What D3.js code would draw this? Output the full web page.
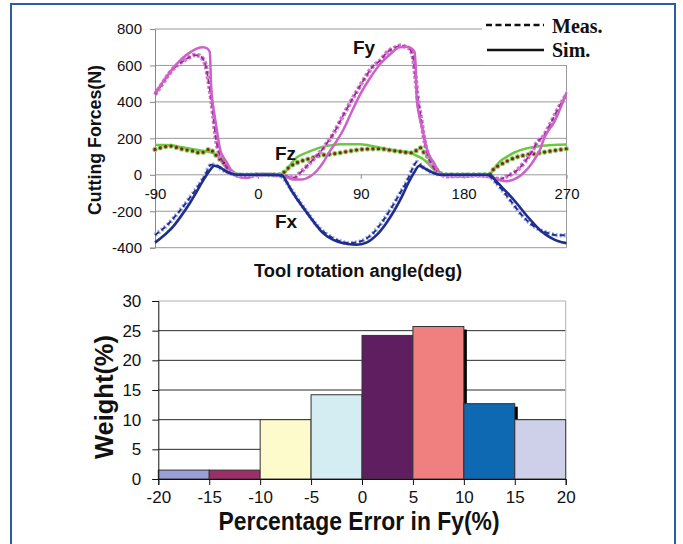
<!DOCTYPE html>
<html>
<head>
<meta charset="utf-8">
<style>
  body { margin: 0; background: #fff; }
  svg text { font-family: "Liberation Sans", Arial, sans-serif; fill: #111; }
  .tick text { font-family: "Liberation Sans", Arial, sans-serif; }
</style>
</head>
<body>
<svg id="chart" width="683" height="544"></svg>
<script src="https://cdn.jsdelivr.net/npm/d3@7"></script>
<script>
// ---- top chart data: [angle (deg), force (N)] ----
var fySim = [[-90,447],[-83,510],[-77,562],[-71,608],[-65,645],[-59,673],[-53,694],[-48,700],[-44,692],[-42,672],[-41,500],[-40,415],[-38,330],[-36,250],[-33,139],[-30,95],[-27,66],[-23,20],[-18,-8],[-10,-17],[-4,-8],[0,0],[10,0],[20,-3],[26,-15],[31,-26],[38,-26],[46,-8],[52,25],[57,66],[63,130],[68,176],[75,250],[82,345],[90,447],[98,530],[107,608],[116,663],[124,700],[130,702],[134,694],[137,675],[138,600],[139,415],[141,330],[144,250],[148,139],[151,95],[154,66],[157,30],[160,5],[168,-8],[180,-10],[190,-5],[200,-10],[206,-17],[212,-30],[218,-35],[224,-25],[229,-8],[234,20],[238,48],[243,95],[247,139],[250,194],[253,231],[259,286],[265,370],[270,452]];
var fyMeas = [[-90,440],[-83,505],[-77,560],[-71,600],[-65,626],[-60,645],[-56,657],[-51,653],[-48,635],[-46,607],[-43,507],[-39,323],[-37,213],[-34,121],[-29,57],[-22,11],[-16,-8],[-8,-5],[0,0],[10,0],[18,-3],[25,-8],[32,-15],[36,5],[40,29],[47,75],[54,121],[60,170],[66,225],[75,330],[86,452],[94,535],[101,598],[107,626],[113,672],[119,695],[125,709],[130,700],[133,690],[136,635],[138,530],[140,415],[143,300],[145,213],[148,121],[152,57],[158,11],[165,-8],[180,-5],[195,-3],[203,-8],[208,-20],[212,-25],[217,-10],[224,11],[230,45],[235,84],[240,130],[244,176],[250,213],[256,280],[261,342],[266,400],[270,440]];
var fzSim = [[-90,163],[-82,164],[-75,162],[-67,152],[-59,143],[-50,133],[-42,125],[-36,110],[-30,75],[-24,29],[-18,5],[-10,0],[0,0],[10,0],[20,0],[24,15],[29,60],[34,95],[40,115],[46,130],[54,149],[62,160],[72,167],[82,168],[90,167],[100,158],[107,149],[116,138],[124,130],[133,121],[137,110],[145,84],[150,55],[154,29],[160,2],[170,0],[180,0],[190,0],[202,0],[206,30],[212,75],[218,100],[224,121],[231,138],[238,149],[246,157],[253,161],[262,165],[270,166]];
var fzMeas = [[-90,139],[-84,150],[-77,158],[-70,148],[-65,139],[-58,132],[-51,121],[-46,128],[-42,143],[-39,125],[-36,103],[-30,66],[-24,20],[-18,0],[-10,-3],[0,0],[10,0],[18,0],[22,11],[28,45],[34,66],[40,80],[47,92],[54,106],[62,112],[72,121],[80,130],[90,139],[98,142],[107,143],[116,135],[124,128],[131,122],[135,121],[139,135],[142,149],[145,125],[148,103],[154,48],[159,11],[165,0],[180,0],[195,0],[203,3],[206,29],[212,55],[218,75],[229,102],[238,112],[247,121],[258,132],[270,143]];
var fxSim = [[-90,-372],[-82,-332],[-74,-283],[-67,-225],[-60,-160],[-54,-98],[-48,-32],[-43,15],[-38,50],[-34,45],[-30,28],[-25,10],[-21,2],[-10,0],[0,0],[10,0],[21,-2],[24,-25],[28,-72],[35,-140],[43,-209],[50,-268],[57,-320],[66,-357],[75,-376],[86,-384],[95,-372],[104,-330],[112,-268],[119,-200],[126,-120],[132,-40],[137,15],[141,48],[146,35],[152,15],[159,0],[170,0],[180,0],[190,0],[203,0],[207,-25],[213,-65],[220,-110],[227,-160],[234,-215],[241,-265],[248,-310],[256,-345],[263,-365],[270,-375]];
var fxMeas = [[-90,-330],[-80,-280],[-70,-210],[-60,-130],[-52,-60],[-46,0],[-41,55],[-38,55],[-34,40],[-28,18],[-22,5],[-15,0],[0,0],[10,0],[18,0],[22,-15],[27,-60],[35,-135],[43,-205],[52,-280],[60,-325],[70,-360],[80,-375],[90,-365],[100,-325],[108,-265],[116,-190],[123,-115],[130,-40],[135,30],[139,70],[143,50],[150,20],[158,3],[165,0],[180,0],[195,0],[202,-5],[207,-35],[214,-85],[222,-150],[230,-215],[238,-265],[246,-300],[255,-322],[263,-332],[270,-332]];
var angleTicks = [-90, 0, 90, 180, 270];
var forceTicks = [-400, -200, 0, 200, 400, 600, 800];

// ---- bottom chart data ----
var binStart = [-20, -15, -10, -5, 0, 5, 10, 15];
var binWeight = [1.5, 1.5, 10, 14.2, 24.2, 25.7, 12.7, 10];
var binColor = ["#9a9fd7", "#9e2d68", "#fdfacb", "#d3edf3", "#5f1e60", "#f08080", "#0f69b2", "#cdd0e8"];
var binShadow = [false, false, false, false, false, true, true, false];
var errTicks = [-20, -15, -10, -5, 0, 5, 10, 15, 20];
var weightTicks = [0, 5, 10, 15, 20, 25, 30];

var svg = d3.select("#chart");
var plain = function (d) { return String(d); };   // hyphen minus like the original

// outer blue frame (no bottom edge)
svg.append("path")
    .attr("d", "M11,544 V4 H675 V544")
    .attr("fill", "none")
    .attr("stroke", "#2a5ca8")
    .attr("stroke-width", 2);

// ================= top chart =================
var x = d3.scaleLinear().domain([-90, 270]).range([155, 566.5]);
var y = d3.scaleLinear().domain([-400, 800]).range([247.7, 29]);

var gTop = svg.append("g");

// gridlines
gTop.selectAll(".grid").data(forceTicks).enter().append("line")
    .attr("x1", x(-90)).attr("x2", x(270))
    .attr("y1", function (d) { return y(d); })
    .attr("y2", function (d) { return y(d); })
    .attr("stroke", "#9a9a9a").attr("stroke-width", 1);
gTop.append("line")
    .attr("x1", x(270)).attr("x2", x(270))
    .attr("y1", y(800)).attr("y2", y(-400))
    .attr("stroke", "#9a9a9a");

// y axis
var yAxis = gTop.append("g")
    .attr("transform", "translate(" + x(-90) + ",0)")
    .call(d3.axisLeft(y).tickValues(forceTicks).tickFormat(plain).tickSize(5).tickPadding(8));
yAxis.select(".domain").attr("stroke", "#888");
yAxis.selectAll(".tick line").attr("stroke", "#888");
yAxis.selectAll("text").attr("font-size", 15).attr("fill", "#222");

// x axis along zero line
var xAxis = gTop.append("g")
    .attr("transform", "translate(0," + y(0) + ")")
    .call(d3.axisBottom(x).tickValues(angleTicks).tickFormat(plain).tickSize(4).tickPadding(10));
xAxis.select(".domain").remove();
xAxis.selectAll(".tick line").attr("stroke", "#888");
xAxis.selectAll("text").attr("font-size", 15).attr("fill", "#222");

var line = d3.line()
    .curve(d3.curveMonotoneX)
    .x(function (d) { return x(d[0]); })
    .y(function (d) { return y(d[1]); });

// measured Fz : green ringed red dots
gTop.append("path").attr("d", line(fzMeas))
    .attr("fill", "none").attr("stroke", "#86cf62").attr("stroke-width", 5.2)
    .attr("stroke-linecap", "round").attr("stroke-dasharray", "0,5.5");
// simulated Fz
gTop.append("path").attr("d", line(fzSim))
    .attr("fill", "none").attr("stroke", "#6cc840").attr("stroke-width", 2.5);
gTop.append("path").attr("d", line(fzMeas))
    .attr("fill", "none").attr("stroke", "#8e1b1b").attr("stroke-width", 3.2)
    .attr("stroke-linecap", "round").attr("stroke-dasharray", "0,5.5");

// Fy
gTop.append("path").attr("d", line(fyMeas))
    .attr("fill", "none").attr("stroke", "#d778d2").attr("stroke-width", 4.5)
    .attr("stroke-dasharray", "3,2");
gTop.append("path").attr("d", line(fyMeas))
    .attr("fill", "none").attr("stroke", "#8f2f95").attr("stroke-width", 1.8)
    .attr("stroke-dasharray", "5,3");
gTop.append("path").attr("d", line(fySim))
    .attr("fill", "none").attr("stroke", "#cc62c8").attr("stroke-width", 2.5);

// Fx
gTop.append("path").attr("d", line(fxMeas))
    .attr("fill", "none").attr("stroke", "#a9b3e6").attr("stroke-width", 4.5)
    .attr("stroke-dasharray", "2,2");
gTop.append("path").attr("d", line(fxMeas))
    .attr("fill", "none").attr("stroke", "#22308f").attr("stroke-width", 2)
    .attr("stroke-dasharray", "5,3");
gTop.append("path").attr("d", line(fxSim))
    .attr("fill", "none").attr("stroke", "#1f2d8c").attr("stroke-width", 2.6);

// series labels
gTop.append("text").attr("x", 353).attr("y", 54).attr("font-size", 19).attr("font-weight", "bold").text("Fy");
gTop.append("text").attr("x", 275).attr("y", 160).attr("font-size", 19).attr("font-weight", "bold").text("Fz");
gTop.append("text").attr("x", 275).attr("y", 228).attr("font-size", 19).attr("font-weight", "bold").text("Fx");

// legend (white box covers the top right corner)
var leg = gTop.append("g");
leg.append("rect").attr("x", 482).attr("y", 12).attr("width", 190).attr("height", 53).attr("fill", "#fff");
leg.append("line").attr("x1", 486).attr("x2", 544).attr("y1", 25).attr("y2", 25)
    .attr("stroke", "#111").attr("stroke-width", 2.4).attr("stroke-dasharray", "6,3.5");
leg.append("line").attr("x1", 487).attr("x2", 544).attr("y1", 50).attr("y2", 50)
    .attr("stroke", "#111").attr("stroke-width", 2.4);
leg.append("text").attr("x", 552).attr("y", 33).attr("font-size", 20).attr("font-weight", "bold")
    .style("font-family", "'Liberation Serif', 'Times New Roman', serif").text("Meas.");
leg.append("text").attr("x", 552).attr("y", 57).attr("font-size", 20).attr("font-weight", "bold")
    .style("font-family", "'Liberation Serif', 'Times New Roman', serif").text("Sim.");

// axis titles
gTop.append("text")
    .attr("transform", "translate(101,140) rotate(-90)")
    .attr("text-anchor", "middle").attr("font-size", 18).attr("font-weight", "bold")
    .attr("textLength", 150).attr("lengthAdjust", "spacingAndGlyphs")
    .text("Cutting Forces(N)");
gTop.append("text")
    .attr("x", 358).attr("y", 277)
    .attr("text-anchor", "middle").attr("font-size", 18).attr("font-weight", "bold")
    .attr("textLength", 208).attr("lengthAdjust", "spacingAndGlyphs")
    .text("Tool rotation angle(deg)");

// ================= bottom chart =================
var xb = d3.scaleLinear().domain([-20, 20]).range([158.3, 565.7]);
var yb = d3.scaleLinear().domain([0, 30]).range([479, 301]);

var gBot = svg.append("g");

gBot.selectAll(".bgrid").data(weightTicks.slice(1)).enter().append("line")
    .attr("x1", xb(-20)).attr("x2", xb(20))
    .attr("y1", function (d) { return yb(d); })
    .attr("y2", function (d) { return yb(d); })
    .attr("stroke", function (d) { return d === 30 ? "#b0b0b0" : "#2a2a2a"; })
    .attr("stroke-width", 1);
gBot.append("line")
    .attr("x1", xb(20)).attr("x2", xb(20))
    .attr("y1", yb(30)).attr("y2", yb(0))
    .attr("stroke", "#b0b0b0");

var bins = binStart.map(function (s, i) {
    return { x0: s, x1: s + 5, w: binWeight[i], c: binColor[i], shadow: binShadow[i] };
});

// dark shadows on the right side of some bars
gBot.selectAll(".shadow").data(bins.filter(function (d) { return d.shadow; })).enter().append("rect")
    .attr("x", function (d) { return xb(d.x1) - 1; })
    .attr("y", function (d) { return yb(d.w) + 3; })
    .attr("width", 4)
    .attr("height", function (d) { return yb(0) - yb(d.w) - 3; })
    .attr("fill", "#000");

gBot.selectAll(".bar").data(bins).enter().append("rect")
    .attr("x", function (d) { return xb(d.x0); })
    .attr("y", function (d) { return yb(d.w); })
    .attr("width", function (d) { return xb(d.x1) - xb(d.x0); })
    .attr("height", function (d) { return yb(0) - yb(d.w); })
    .attr("fill", function (d) { return d.c; })
    .attr("stroke", "#333").attr("stroke-width", 1);

var ybAxis = gBot.append("g")
    .attr("transform", "translate(" + xb(-20) + ",0)")
    .call(d3.axisLeft(yb).tickValues(weightTicks).tickFormat(plain).tickSize(6).tickPadding(11));
ybAxis.selectAll("path, line").attr("stroke", "#111");
ybAxis.selectAll("text").attr("font-size", 17).attr("fill", "#111");

var xbAxis = gBot.append("g")
    .attr("transform", "translate(0," + yb(0) + ")")
    .call(d3.axisBottom(xb).tickValues(errTicks).tickFormat(plain).tickSize(6).tickPadding(6));
xbAxis.selectAll("path, line").attr("stroke", "#111");
xbAxis.selectAll("text").attr("font-size", 17).attr("fill", "#111");

gBot.append("text")
    .attr("transform", "translate(113,397) rotate(-90)")
    .attr("text-anchor", "middle").attr("font-size", 25).attr("font-weight", "bold")
    .attr("textLength", 124).attr("lengthAdjust", "spacingAndGlyphs")
    .text("Weight(%)");
gBot.append("text")
    .attr("x", 359).attr("y", 530)
    .attr("text-anchor", "middle").attr("font-size", 25).attr("font-weight", "bold")
    .attr("textLength", 281).attr("lengthAdjust", "spacingAndGlyphs")
    .text("Percentage Error in Fy(%)");
</script>
</body>
</html>
